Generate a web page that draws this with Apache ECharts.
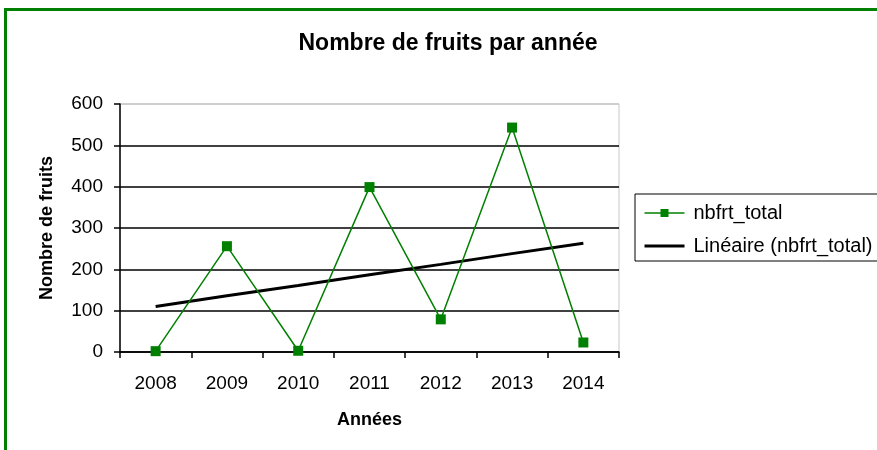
<!DOCTYPE html>
<html>
<head>
<meta charset="utf-8">
<script src="https://cdn.jsdelivr.net/npm/echarts@6/dist/echarts.min.js"></script>
<style>
html,body{margin:0;padding:0;background:#fff;}
#main{width:877px;height:450px;}
</style>
</head>
<body>
<div id="main"></div>
<script>
// données
var annees = ['2008', '2009', '2010', '2011', '2012', '2013', '2014'];
var nbfrt_total = [2, 256, 3, 399, 79, 543, 23];
var lineaire = [110, 136, 161, 187, 212, 238, 263];
var yTicks = [0, 100, 200, 300, 400, 500, 600];

var police = '"Liberation Sans", Arial, sans-serif';
var myChart = echarts.init(document.getElementById('main'));

var option = {
    backgroundColor: '#fff',
    animation: false,
    title: {
        text: 'Nombre de fruits par année',
        left: 443,
        textAlign: 'center',
        top: 27,
        textStyle: { fontFamily: police, fontSize: 23, fontWeight: 'bold', color: '#000' }
    },
    graphic: [{
        type: 'rect',
        shape: { x: 5.5, y: 9.5, width: 900, height: 500 },
        style: { fill: 'none', stroke: '#008000', lineWidth: 3 }
    }],
    legend: {
        orient: 'vertical',
        left: 635,
        top: 194,
        width: 260,
        padding: [9, 20, 5, 8],
        itemGap: 13,
        itemWidth: 40,
        itemHeight: 10,
        borderColor: '#000',
        borderWidth: 1,
        lineStyle: { width: 'inherit' },
        textStyle: { fontFamily: police, fontSize: 20, color: '#000', padding: [0, 0, 0, 4] },
        data: [
            { name: 'nbfrt_total' },
            { name: 'Linéaire (nbfrt_total)', itemStyle: { opacity: 0 } }
        ]
    },
    grid: {
        left: 120, right: 258, top: 104, bottom: 98,
        show: true, borderColor: '#c8c8c8', borderWidth: 1
    },
    xAxis: {
        type: 'category',
        data: annees,
        name: 'Années',
        nameLocation: 'middle',
        nameGap: 59,
        nameTextStyle: { fontFamily: police, fontSize: 18, fontWeight: 'bold', color: '#000' },
        axisLine: { lineStyle: { color: '#000', width: 1.5 } },
        axisTick: { show: true, length: 6, lineStyle: { color: '#000', width: 1.5 } },
        axisLabel: { fontFamily: police, fontSize: 19, color: '#000', margin: 22 },
        splitLine: { show: false }
    },
    yAxis: {
        type: 'value',
        min: 0,
        max: 600,
        interval: 100,
        name: 'Nombre de fruits',
        nameLocation: 'middle',
        nameGap: 64,
        nameTextStyle: { fontFamily: police, fontSize: 18, fontWeight: 'bold', color: '#000' },
        axisLine: { show: true, lineStyle: { color: '#000', width: 1.5 } },
        axisTick: { show: true, length: 6, lineStyle: { color: '#000', width: 1.5 } },
        axisLabel: {
            fontFamily: police, fontSize: 19, color: '#000', margin: 17,
            formatter: function (v) { return yTicks.indexOf(v) > -1 ? String(v) : ''; }
        },
        splitLine: {
            show: true,
            lineStyle: { color: ['#000', '#000', '#000', '#000', '#000', '#000', '#c8c8c8'], width: 1.5 }
        }
    },
    series: [{
        name: 'nbfrt_total',
        type: 'line',
        data: nbfrt_total,
        symbol: 'rect',
        symbolSize: 10,
        z: 3,
        itemStyle: { color: '#008000' },
        lineStyle: { color: '#008000', width: 1.5 }
    }, {
        name: 'Linéaire (nbfrt_total)',
        type: 'line',
        data: lineaire,
        symbol: 'none',
        z: 2,
        itemStyle: { color: '#000' },
        lineStyle: { color: '#000', width: 3 }
    }]
};

myChart.setOption(option);
</script>
</body>
</html>
